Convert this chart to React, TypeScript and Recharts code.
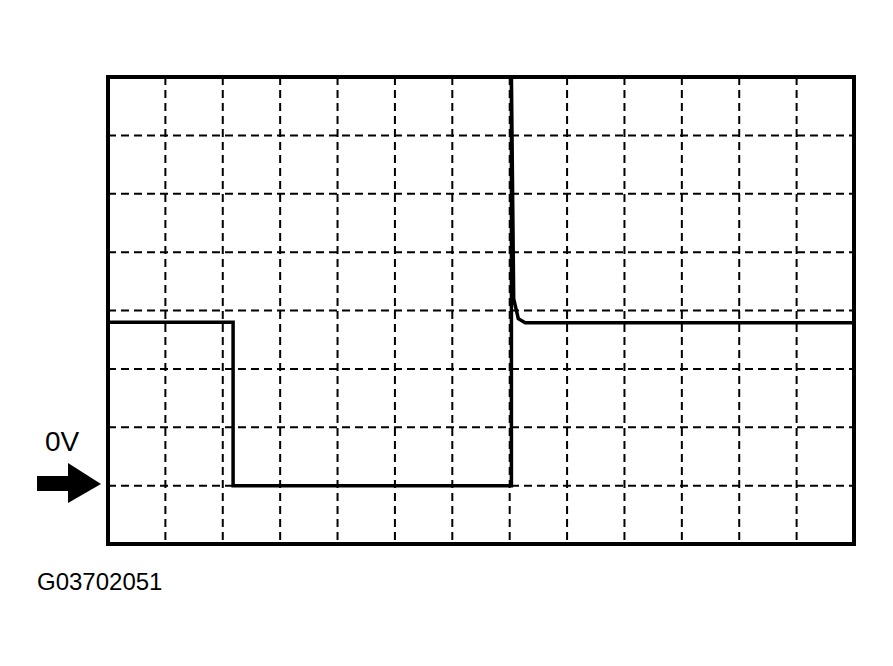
import { LineChart, Line, XAxis, YAxis, CartesianGrid, ReferenceArea } from "recharts";

// scope trace, x in horizontal divisions, y in vertical divisions (0V = 0)
const timeDiv = [0, 2.18, 2.18, 7.03, 7.03, 7.07, 7.15, 7.27, 13];
const volts = [2.8, 2.8, 0, 0, 7, 3.2, 2.86, 2.79, 2.79];

const xTicks = [0, 1, 2, 3, 4, 5, 6, 7, 8, 9, 10, 11, 12, 13];
const yTicks = [-1, 0, 1, 2, 3, 4, 5, 6, 7];

const zeroLabel = "0V";
const figureId = "G03702051";

const data = timeDiv.map((t, i) => ({ t, v: volts[i] }));

const FONT = '"Liberation Sans", Arial, sans-serif';

export default function App() {
  return (
    <div style={{ position: "relative", width: 877, height: 650, fontFamily: FONT }}>
      <LineChart
        width={877}
        height={650}
        data={data}
        margin={{ top: 69, right: 31, bottom: 114, left: 100 }}
      >
        <XAxis dataKey="t" type="number" domain={[0, 13]} ticks={xTicks} hide />
        <YAxis type="number" domain={[-1, 7]} ticks={yTicks} hide />
        <CartesianGrid stroke="#000" strokeWidth={2} strokeDasharray="8 5" />
        <Line
          type="linear"
          dataKey="v"
          stroke="#000"
          strokeWidth={3.5}
          dot={false}
          isAnimationActive={false}
        />
        <ReferenceArea
          x1={0}
          x2={13}
          y1={-1}
          y2={7}
          fill="none"
          fillOpacity={0}
          stroke="#000"
          strokeWidth={4}
          ifOverflow="visible"
        />
      </LineChart>
      <svg
        width={893}
        height={666}
        style={{ position: "absolute", left: -8, top: -8, pointerEvents: "none" }}
      >
        <text x={45} y={451} fontSize={28} fontFamily={FONT} fill="#000">
          {zeroLabel}
        </text>
        <rect x={37} y={476} width={32} height={15} fill="#000" />
        <polygon points="68,463 101,484 68,503" fill="#000" />
        <text x={37} y={590} fontSize={24} fontFamily={FONT} fill="#000">
          {figureId}
        </text>
      </svg>
    </div>
  );
}
